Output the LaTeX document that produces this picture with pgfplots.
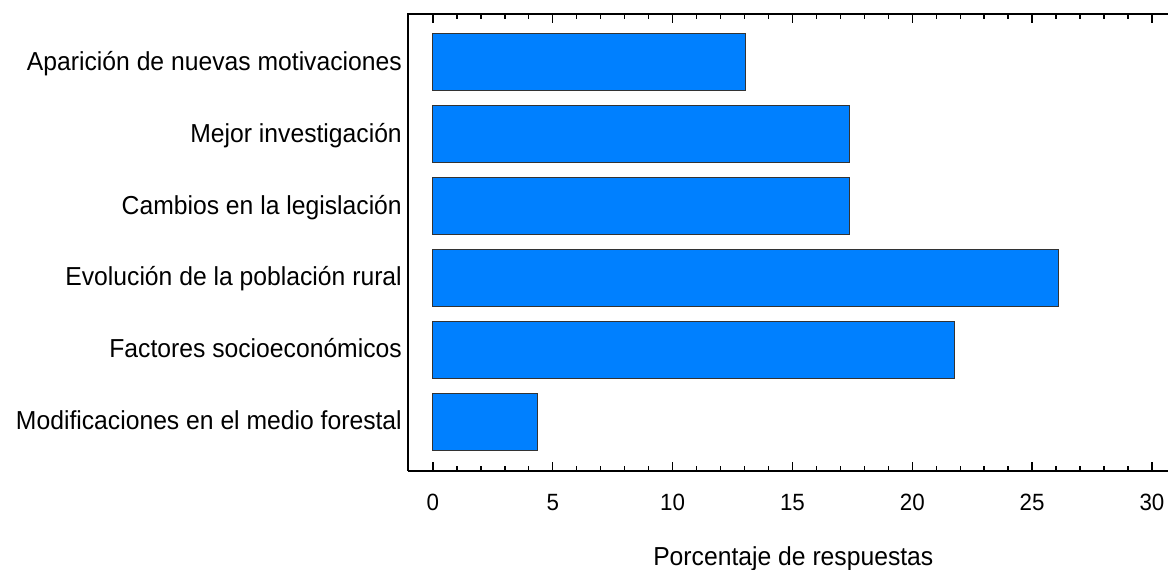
\documentclass[border=0pt]{standalone}
\usepackage{fontspec}
\setmainfont{Liberation Sans}[FakeStretch=0.95]
\usepackage{pgfplots}
\pgfplotsset{compat=1.18}
\definecolor{barblue}{RGB}{0,128,255}
\begin{document}
\fontsize{26bp}{30bp}\selectfont
\begin{tikzpicture}
\useasboundingbox (-408bp,-99bp) rectangle (760bp,471bp);
\begin{axis}[
  at={(0,0)}, anchor=south west,
  scale only axis,
  width=760bp, height=457bp,
  xmin=-1.04, xmax=30.67,
  ymin=-0.686, ymax=5.672,
  xbar, bar width=57bp,
  axis line style={draw=none},
  xtick={0,5,...,30},
  minor x tick num=4,
  tick align=inside,
  xtick pos=both,
  major tick length=9bp, minor tick length=5bp,
  every tick/.style={black, line width=1.4bp},
  ytick={0,1,2,3,4,5},
  yticklabels={Modificaciones en el medio forestal,Factores socioeconómicos,Evolución de la población rural,Cambios en la legislación,Mejor investigación,Aparición de nuevas motivaciones},
  ytick style={draw=none},
  yticklabel style={anchor=base east, inner sep=0pt, xshift=-6bp, yshift=-8bp, font=\fontsize{26bp}{30bp}\selectfont},
  xticklabel style={anchor=base, inner sep=0pt, yshift=-39bp, font=\fontsize{23.5bp}{28bp}\selectfont},
  /pgf/number format/assume math mode=true,
  xlabel={Porcentaje de respuestas},
  xlabel style={at={(rel axis cs:0.507,0)}, anchor=base, inner sep=0pt, yshift=-94bp, font=\fontsize{26bp}{30bp}\selectfont},
  clip=false,
]
\addplot[fill=barblue, draw=black!80, line width=0.9bp] coordinates {
 (4.35,0) (21.74,1) (26.09,2) (17.39,3) (17.39,4) (13.04,5)
};
\draw[line width=2bp] (rel axis cs:0,0) -- (rel axis cs:0,1) -- (rel axis cs:1,1);
\draw[line width=2bp] (rel axis cs:0,0) -- (rel axis cs:1,0);
\end{axis}
\end{tikzpicture}
\end{document}
